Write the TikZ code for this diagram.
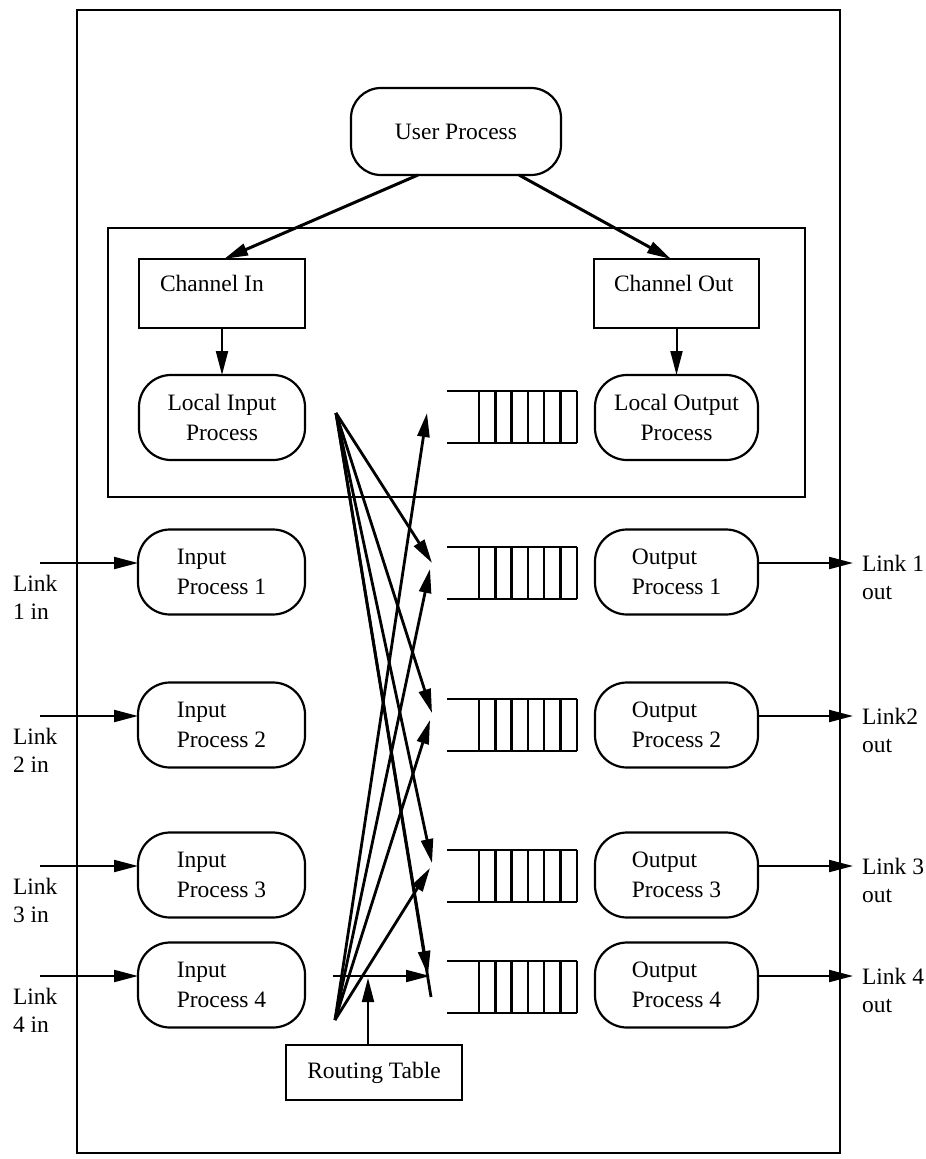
\documentclass[tikz,border=0pt]{standalone}
\usepackage{fontspec}
\setmainfont{Liberation Serif}
\usetikzlibrary{arrows.meta,calc}
\begin{document}
\begin{tikzpicture}[x=1pt,y=-1pt,
  every node/.style={inner sep=0pt, outer sep=0pt},
  txt/.style={font=\fontsize{23.5}{30}\selectfont, align=left},
  lbl/.style={font=\fontsize{23.5}{28}\selectfont, align=left, anchor=north west},
  ibox/.style={draw, line width=2.2pt, rounded corners=32pt, minimum width=167pt, minimum height=85pt, txt},
  obox/.style={draw, line width=2.2pt, rounded corners=32pt, minimum width=163pt, minimum height=85pt, txt},
  lbox/.style={draw, line width=2.2pt, rounded corners=32pt, minimum height=85pt, txt, align=center},
  sbox/.style={draw, line width=2.2pt},
  tip/.style={-{Triangle[length=24pt,width=12pt]}},
  fan/.style={line width=2.8pt, tip},
  arr/.style={line width=2pt, tip},
  qline/.style={line width=2.4pt}
]
\useasboundingbox (0,0) rectangle (926,1159);
% frames
\draw[line width=2.4pt] (77,10) rectangle (840,1153);
\draw[line width=2.4pt] (108,228) rectangle (805,497);
% top part
\node[draw, line width=2.2pt, rounded corners=30pt, minimum width=210pt, minimum height=87pt, txt] (up) at (456,131.5) {User Process};
\node[sbox, minimum width=166pt, minimum height=69pt] (chin) at (222,293.5) {};
\node[txt, anchor=west] (chint) at (160,283) {Channel In};
\node[sbox, minimum width=165pt, minimum height=69pt] (chout) at (676.5,293.5) {};
\node[txt, anchor=west] (choutt) at (614,283) {Channel Out};
\node[lbox, minimum width=166pt] (locin) at (222,417.5) {Local Input\\Process};
\node[lbox, minimum width=163pt] (locout) at (676.5,417.5) {Local Output\\Process};
\draw[arr, line width=3pt] ($(up.south)+(-38,0)$) -- ($(chin.north)+(2,0)$);
\draw[arr, line width=3pt] ($(up.south)+(63,0)$) -- ($(chout.north)+(-5.5,0)$);
\draw[arr] (chin.south) -- (locin.north);
\draw[arr] (chout.south) -- (locout.north);
% process rows
\foreach \k/\c in {1/572,2/725,3/875,4/985}{
  \node[ibox] (in\k) at (221.5,\c) {Input\\Process \k};
  \node[obox] (out\k) at (676.5,\c) {Output\\Process \k};
  \coordinate (li\k) at (40,{\c-9});
  \coordinate (lo\k) at (853,{\c-9});
  \draw[arr] (li\k) -- (li\k -| in\k.west);
  \draw[arr] (out\k.east |- lo\k) -- (lo\k);
  \node[lbl] (lin\k) at (13,{\c+3}) {Link\\\k\ in};
}
\node[lbl] (lout1) at (862,555) {Link 1\\out};
\node[lbl] (lout2) at (862,708) {Link2\\out};
\node[lbl] (lout3) at (862,858) {Link 3\\out};
\node[lbl] (lout4) at (862,968) {Link 4\\out};
% queues
\foreach \c in {417,573,725,876,987}{
  \draw[qline] (447,{\c-26}) -- (577,{\c-26});
  \draw[qline] (447,{\c+26}) -- (577,{\c+26});
  \foreach \x in {479,495.3,511.6,527.9,544.2,560.5,576.8}
    \draw[qline] (\x,{\c-26}) -- (\x,{\c+26});
}
% routing fan
\coordinate (v1) at (336,413);
\coordinate (v2) at (335,1020);
\coordinate (d1) at (432,563);
\coordinate (d2) at (432,713);
\coordinate (d3) at (432,863);
\coordinate (d4) at (428,975);
\coordinate (d4x) at (431,997);
\coordinate (u0) at (427,413);
\coordinate (u1) at (430,569);
\coordinate (u2) at (430,720);
\coordinate (u3) at (430,868);
\coordinate (h4s) at (333,976);
\coordinate (h4e) at (430,976);
\coordinate (rtx) at (368,978);
\draw[fan] (v1) -- (d1);
\draw[fan] (v1) -- (d2);
\draw[fan] (v1) -- (d3);
\draw[fan, -] (v1) -- (d4x);
\draw[fan] (v1) -- (d4);
\draw[fan] (v2) -- (u0);
\draw[fan] (v2) -- (u1);
\draw[fan] (v2) -- (u2);
\draw[fan] (v2) -- (u3);
\draw[arr] (h4s) -- (h4e);
\node[sbox, txt, minimum width=176pt, minimum height=55pt] (rt) at (374,1072.5) {Routing Table};
\draw[arr] (rt.north -| rtx) -- (rtx);
\end{tikzpicture}
\end{document}
